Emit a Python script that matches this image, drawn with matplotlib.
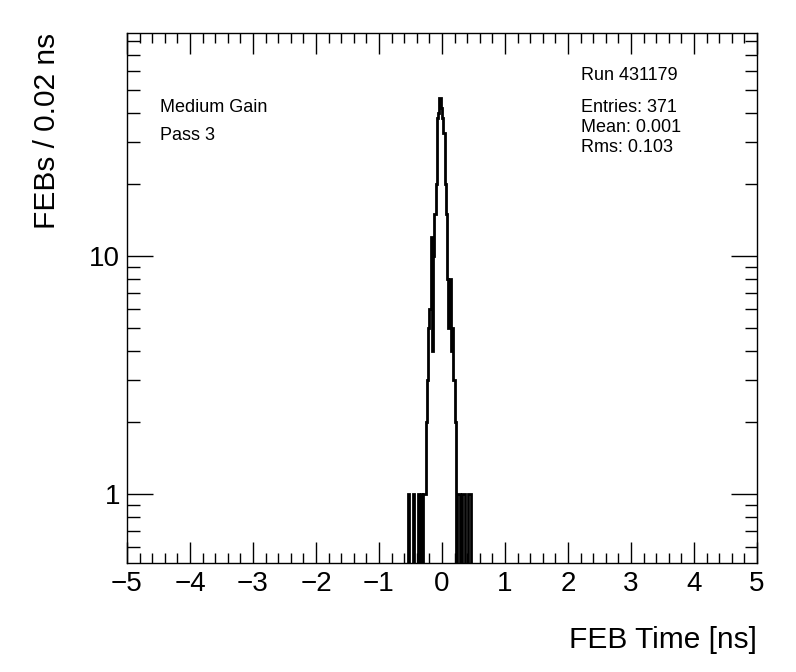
import matplotlib
matplotlib.use("Agg")
import matplotlib.pyplot as plt
from matplotlib.ticker import MultipleLocator, FixedLocator, NullFormatter
import numpy as np

plt.rcParams['font.family'] = ['Liberation Sans', 'DejaVu Sans']

# histogram: 0.02 ns bins, first bin centred at -0.55 ns
bin_width = 0.02
first_center = -0.55
counts = [0, 1, 0, 0, 0, 1, 0, 0, 0, 1,
          0, 1, 0, 1, 1, 2, 3, 5, 6, 12,
          4, 10, 15, 20, 38, 40, 46, 42, 38, 33,
          20, 15, 8, 5, 8, 4, 5, 3, 2, 0,
          1, 1, 0, 0, 1, 1, 0, 0, 0, 1,
          1, 0]

stat_lines = ["Entries: 371", "Mean: 0.001", "Rms: 0.103"]
run_label = "Run 431179"
info_lines = ["Medium Gain", "Pass 3"]

# full range edges -5..5, zero bins drop below the axis like in ROOT
edges = np.round(np.arange(-5, 5 + bin_width / 2, bin_width), 4)
full = np.full(len(edges) - 1, 1e-3)
start = int(round((first_center - bin_width / 2 + 5) / bin_width))
vals = np.array(counts, dtype=float)
vals[vals == 0] = 1e-3
full[start:start + len(vals)] = vals

fig = plt.figure(figsize=(7.96, 6.72), dpi=100)
ax = fig.add_axes([127 / 796, 1 - 563 / 672, 630 / 796, 530 / 672])

ax.stairs(full, edges, color='black', linewidth=2)

ax.set_yscale('log')
ax.set_xlim(-5, 5)
ax.set_ylim(0.513, 86.5)

ax.xaxis.set_major_locator(MultipleLocator(1))
ax.xaxis.set_minor_locator(MultipleLocator(0.2))
ax.yaxis.set_major_locator(FixedLocator([1, 10]))
minors = [0.6, 0.7, 0.8, 0.9] + list(range(2, 10)) + [20, 30, 40, 50, 60, 70, 80]
ax.yaxis.set_minor_locator(FixedLocator(minors))
ax.yaxis.set_minor_formatter(NullFormatter())
ax.set_yticklabels(['1', '10'])
ax.set_xticks(range(-5, 6))
ax.set_xticklabels([str(v).replace('-', '\u2212') for v in range(-5, 6)])

ax.tick_params(axis='both', which='both', direction='in', top=True, right=True,
               labelsize=20, width=1)
ax.tick_params(axis='x', which='major', length=15, pad=6)
ax.tick_params(axis='x', which='minor', length=7.5)
ax.tick_params(axis='y', which='major', length=19, pad=5)
ax.tick_params(axis='y', which='minor', length=9)
for s in ax.spines.values():
    s.set_linewidth(1)

ax.set_xlabel("FEB Time [ns]", fontsize=21.5, loc='right', labelpad=21)
ax.set_ylabel("FEBs / 0.02 ns", fontsize=21.5, loc='top', labelpad=20)

fig.text(160 / 796, 1 - 108 / 672, info_lines[0], fontsize=13, va='center')
fig.text(160 / 796, 1 - 136 / 672, info_lines[1], fontsize=13, va='center')
fig.text(581 / 796, 1 - 75 / 672, run_label, fontsize=13, va='center')
for i, line in enumerate(stat_lines):
    fig.text(581 / 796, 1 - (108 + 20 * i) / 672, line, fontsize=13, va='center')

fig.savefig("out.png", dpi=100)
